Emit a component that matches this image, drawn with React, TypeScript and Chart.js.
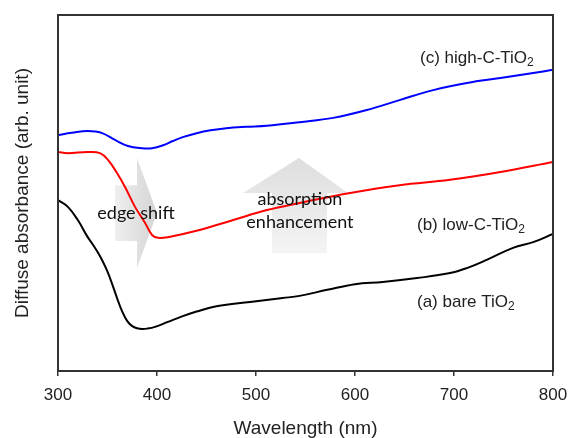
import React, { useEffect, useRef } from "react";
import { Chart, registerables } from "chart.js";

Chart.register(...registerables);

// Wavelength (nm) and diffuse absorbance (arb. unit, 0-100)
const bareWl = [300, 310, 320, 330, 335, 340, 345, 350, 355, 360, 365, 370, 375, 380, 385, 390, 398, 411, 426, 440, 460, 494, 527, 544, 572, 600, 628, 662.6, 696, 713, 733, 759.6, 780, 800];
const bareAbs = [48.0, 46.1, 42.4, 37.6, 35.6, 33.4, 30.9, 27.9, 24.2, 20.2, 16.6, 14.0, 12.6, 12.0, 11.8, 11.9, 12.4, 13.8, 15.4, 16.7, 18.2, 19.4, 20.5, 21.1, 22.8, 24.4, 25.0, 26.1, 27.5, 28.9, 31.2, 34.6, 36.2, 38.5];

const lowWl = [300, 310, 330, 342.4, 350.5, 359.6, 367.7, 377.8, 388, 395, 401, 411, 443, 477, 511, 544, 595, 645, 696, 747, 800];
const lowAbs = [61.5, 61.2, 61.5, 61.2, 59.3, 55.6, 51.7, 46.1, 41.6, 38.2, 37.4, 37.6, 39.6, 42.4, 45.2, 47.2, 50.0, 52.2, 53.7, 55.9, 58.7];

const highWl = [300, 314, 330, 344, 357.6, 370.7, 384.8, 395, 406, 416, 426, 440, 454, 470, 490, 511, 544, 578, 612, 645, 679, 713, 747, 780, 800];
const highAbs = [66.3, 66.9, 67.4, 66.9, 64.9, 63.2, 62.6, 62.6, 63.4, 64.6, 65.7, 66.8, 67.6, 68.2, 68.6, 68.9, 69.9, 71.1, 73.3, 76.1, 78.9, 80.9, 82.3, 83.7, 84.6];

const xTicks = [300, 400, 500, 600, 700, 800];

const seriesLabels = ["(a) bare TiO", "(b) low-C-TiO", "(c) high-C-TiO"];
// label anchor positions in data units (left edge, middle)
const labelWl = [662.6, 662.6, 665.7];
const labelAbs = [19.4, 41.0, 87.9];

const SANS = '"Liberation Sans", Arial, sans-serif';
const HUM = 'Lato, "Open Sans", sans-serif';

const toPts = (xs: number[], ys: number[]) => xs.map((x, i) => ({ x, y: ys[i] }));

const decor = {
  id: "decor",
  beforeDatasetsDraw(chart: any) {
    const { ctx, scales } = chart;
    const X = (v: number) => scales.x.getPixelForValue(v);
    const Y = (v: number) => scales.y.getPixelForValue(v);
    ctx.save();
    // edge shift arrow (right-pointing)
    {
      const sx0 = X(357.6), sx1 = X(379.8), tip = X(400);
      const sy0 = Y(52.2), sy1 = Y(36.5), hy0 = Y(59.8), hy1 = Y(28.9), ty = Y(44.4);
      const g = ctx.createLinearGradient(sx0, 0, tip, 0);
      g.addColorStop(0, "rgba(236,236,236,0.85)");
      g.addColorStop(1, "rgba(205,205,205,0.85)");
      ctx.fillStyle = g;
      ctx.beginPath();
      ctx.moveTo(sx0, sy0);
      ctx.lineTo(sx1, sy0);
      ctx.lineTo(sx1, hy0);
      ctx.lineTo(tip, ty);
      ctx.lineTo(sx1, hy1);
      ctx.lineTo(sx1, sy1);
      ctx.lineTo(sx0, sy1);
      ctx.closePath();
      ctx.fill();
    }
    // absorption enhancement arrow (up-pointing)
    {
      const tipx = X(543.4), tipy = Y(59.8), hb = Y(50.0);
      const hx0 = X(486.9), hx1 = X(592.9), sx0 = X(516.2), sx1 = X(571.7), sb = Y(33.1);
      const g = ctx.createLinearGradient(0, tipy, 0, sb);
      g.addColorStop(0, "rgba(218,218,218,0.9)");
      g.addColorStop(1, "rgba(243,243,243,0.9)");
      ctx.fillStyle = g;
      ctx.beginPath();
      ctx.moveTo(tipx, tipy);
      ctx.lineTo(hx1, hb);
      ctx.lineTo(sx1, hb);
      ctx.lineTo(sx1, sb);
      ctx.lineTo(sx0, sb);
      ctx.lineTo(sx0, hb);
      ctx.lineTo(hx0, hb);
      ctx.closePath();
      ctx.fill();
    }
    ctx.restore();
  },
  afterDatasetsDraw(chart: any) {
    const { ctx, scales, chartArea } = chart;
    const X = (v: number) => scales.x.getPixelForValue(v);
    const Y = (v: number) => scales.y.getPixelForValue(v);
    ctx.save();
    // frame
    ctx.strokeStyle = "#333";
    ctx.lineWidth = 2;
    ctx.strokeRect(chartArea.left, chartArea.top, chartArea.right - chartArea.left, chartArea.bottom - chartArea.top);

    // series labels with subscript
    ctx.fillStyle = "#222";
    ctx.textBaseline = "middle";
    ctx.textAlign = "left";
    for (let i = 0; i < seriesLabels.length; i++) {
      const x = X(labelWl[i]), y = Y(labelAbs[i]);
      ctx.font = `17px ${SANS}`;
      ctx.fillText(seriesLabels[i], x, y);
      const w = ctx.measureText(seriesLabels[i]).width;
      ctx.font = `12px ${SANS}`;
      ctx.fillText("2", x + w, y + 5);
    }

    // annotations
    ctx.textAlign = "center";
    ctx.font = `18px ${HUM}`;
    ctx.fillStyle = "#111";
    ctx.fillText("edge shift", X(378.8), Y(44.4));
    ctx.fillText("absorption", X(544.4), Y(48.3));
    ctx.fillText("enhancement", X(544.4), Y(41.9));

    // y-axis title
    ctx.translate(23, (chartArea.top + chartArea.bottom) / 2);
    ctx.rotate(-Math.PI / 2);
    ctx.font = `19px ${SANS}`;
    ctx.fillStyle = "#222";
    ctx.fillText("Diffuse absorbance (arb. unit)", 0, 0);
    ctx.restore();
  },
};

export default function App() {
  const ref = useRef<HTMLCanvasElement | null>(null);
  useEffect(() => {
    if (!ref.current) return;
    const chart = new Chart(ref.current, {
      type: "line",
      data: {
        datasets: [
          { label: "bare", data: toPts(bareWl, bareAbs), borderColor: "#000000", borderWidth: 2, pointRadius: 0, tension: 0.4, fill: false },
          { label: "low", data: toPts(lowWl, lowAbs), borderColor: "#ff0000", borderWidth: 2, pointRadius: 0, tension: 0.4, fill: false },
          { label: "high", data: toPts(highWl, highAbs), borderColor: "#0000ff", borderWidth: 2, pointRadius: 0, tension: 0.4, fill: false },
        ],
      },
      options: {
        animation: false,
        responsive: false,
        layout: { padding: { left: 58, right: 15, top: 15, bottom: 0 } },
        plugins: { legend: { display: false }, tooltip: { enabled: false } },
        scales: {
          x: {
            type: "linear",
            min: 300,
            max: 800,
            afterBuildTicks: (axis: any) => {
              axis.ticks = xTicks.map((v) => ({ value: v }));
            },
            afterFit: (axis: any) => {
              axis.paddingLeft = 0;
              axis.paddingRight = 0;
              axis.height = 67;
            },
            grid: { drawOnChartArea: false, drawTicks: true, tickLength: 5, color: "#333", lineWidth: 1.5 },
            border: { display: false },
            ticks: { color: "#222", font: { family: SANS, size: 17 }, padding: 9, maxRotation: 0 },
            title: { display: true, text: "Wavelength (nm)", color: "#222", font: { family: SANS, size: 19 }, padding: { top: 0, bottom: -2 } },
          },
          y: { display: false, min: 0, max: 100 },
        },
      },
      plugins: [decor],
    } as any);
    return () => chart.destroy();
  }, []);
  return (
    <div style={{ position: "absolute", left: 0, top: 0, width: 568, height: 438, background: "#fff" }}>
      <canvas ref={ref} width={568} height={438} style={{ display: "block" }} />
    </div>
  );
}
